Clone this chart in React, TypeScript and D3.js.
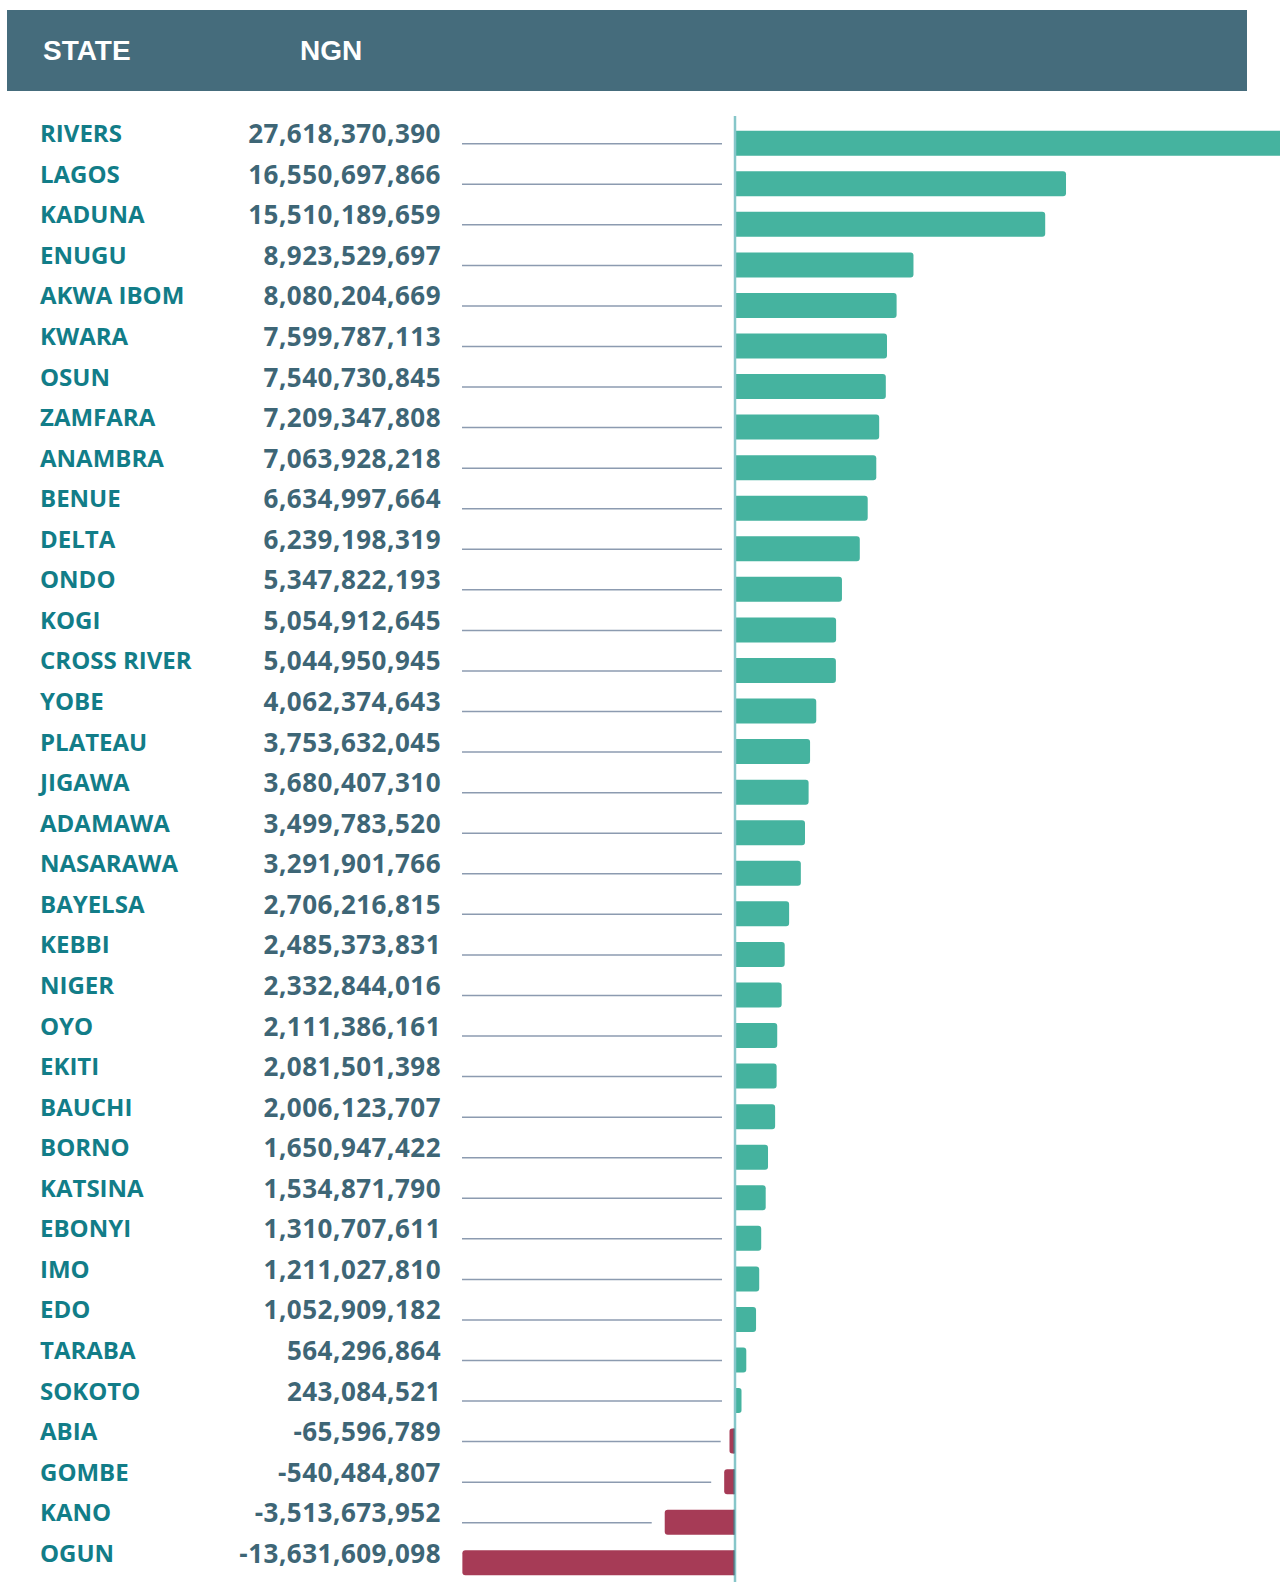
import React from "react";
import * as d3 from "d3";

const states: string[] = [
  "RIVERS", "LAGOS", "KADUNA", "ENUGU", "AKWA IBOM", "KWARA", "OSUN", "ZAMFARA",
  "ANAMBRA", "BENUE", "DELTA", "ONDO", "KOGI", "CROSS RIVER", "YOBE", "PLATEAU",
  "JIGAWA", "ADAMAWA", "NASARAWA", "BAYELSA", "KEBBI", "NIGER", "OYO", "EKITI",
  "BAUCHI", "BORNO", "KATSINA", "EBONYI", "IMO", "EDO", "TARABA", "SOKOTO",
  "ABIA", "GOMBE", "KANO", "OGUN",
];

const values: number[] = [
  27618370390, 16550697866, 15510189659, 8923529697, 8080204669, 7599787113,
  7540730845, 7209347808, 7063928218, 6634997664, 6239198319, 5347822193,
  5054912645, 5044950945, 4062374643, 3753632045, 3680407310, 3499783520,
  3291901766, 2706216815, 2485373831, 2332844016, 2111386161, 2081501398,
  2006123707, 1650947422, 1534871790, 1310707611, 1211027810, 1052909182,
  564296864, 243084521, -65596789, -540484807, -3513673952, -13631609098,
];

const headerLabels: string[] = ["STATE", "NGN"];

const W = 1280;
const H = 1582;

function barPath(x0: number, x1: number, y0: number, h: number, r: number): string {
  const w = Math.abs(x1 - x0);
  const rr = Math.min(r, w / 2, h / 2);
  const p = d3.path();
  if (x1 >= x0) {
    p.moveTo(x0, y0);
    p.lineTo(x1 - rr, y0);
    p.arcTo(x1, y0, x1, y0 + rr, rr);
    p.lineTo(x1, y0 + h - rr);
    p.arcTo(x1, y0 + h, x1 - rr, y0 + h, rr);
    p.lineTo(x0, y0 + h);
  } else {
    p.moveTo(x0, y0);
    p.lineTo(x1 + rr, y0);
    p.arcTo(x1, y0, x1, y0 + rr, rr);
    p.lineTo(x1, y0 + h - rr);
    p.arcTo(x1, y0 + h, x1 + rr, y0 + h, rr);
    p.lineTo(x0, y0 + h);
  }
  p.closePath();
  return p.toString();
}

export default function App() {
  React.useEffect(() => {
    document.body.style.margin = "0";
  }, []);

  const x = d3.scaleLinear().domain([-15e9, 30e9]).range([435, 1335]);
  const y = d3.scalePoint<string>().domain(states).range([143.2, 1562.8]);
  const fmt = (v: number) => d3.format(",")(v).replace("\u2212", "-");
  const zero = x(0);
  const barH = 25;
  const lineStart = 462;
  const minW = 5.5;

  return (
    <div style={{ position: "absolute", left: 0, top: 0, width: W, height: H }}>
      <svg width={W} height={H} style={{ display: "block" }}>
        <rect x={7} y={10} width={1240} height={81} fill="#456c7c" />
        <text x={43} y={60} fill="#ffffff" fontFamily="'Liberation Sans', Arial, sans-serif" fontWeight={700} fontSize={28}>
          {headerLabels[0]}
        </text>
        <text x={300} y={60} fill="#ffffff" fontFamily="'Liberation Sans', Arial, sans-serif" fontWeight={700} fontSize={28}>
          {headerLabels[1]}
        </text>

        {states.map((s, i) => {
          const v = values[i];
          const cy = y(s) as number;
          const xRaw = x(v);
          let xv = xRaw;
          if (v >= 0 && xv - (zero + 1) < minW) xv = zero + 1 + minW;
          if (v < 0 && zero - xv < minW) xv = zero - minW;
          const lineEnd = Math.min(zero, xRaw) - 13;
          return (
            <g key={s}>
              <text x={40} y={cy - 1} fill="#127d88" fontFamily="'Open Sans', sans-serif" fontWeight={700} fontSize={24}>
                {s}
              </text>
              <text x={441} y={cy} fill="#3e6676" textAnchor="end" fontFamily="'Open Sans', sans-serif" fontWeight={700} fontSize={26} letterSpacing={0.5}>
                {fmt(v)}
              </text>
              {lineEnd > lineStart + 2 && (
                <line x1={lineStart} x2={lineEnd} y1={cy + 0.5} y2={cy + 0.5} stroke="#8c9bb0" strokeWidth={1.5} />
              )}
              <path
                d={v >= 0 ? barPath(zero + 1, xv, cy - barH / 2, barH, 3) : barPath(zero, xv, cy - barH / 2, barH, 3)}
                fill={v >= 0 ? "#45b39f" : "#a63b56"}
              />
            </g>
          );
        })}

        <line x1={zero} x2={zero} y1={116} y2={H} stroke="#86c6c9" strokeWidth={2.5} />
        {states.map((s, i) =>
          values[i] < 0 ? (
            <line
              key={"z" + s}
              x1={zero - 1}
              x2={zero - 1}
              y1={(y(s) as number) - barH / 2}
              y2={(y(s) as number) + barH / 2}
              stroke="#4f5f6e"
              strokeWidth={1.2}
            />
          ) : null
        )}
      </svg>
    </div>
  );
}
